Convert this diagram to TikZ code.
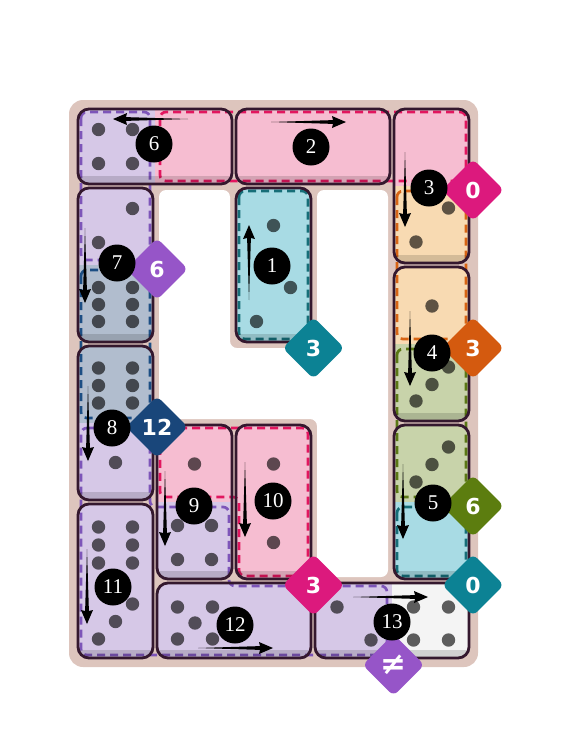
\documentclass[tikz,border=0pt]{standalone}
\usepackage{fontspec}
\newfontfamily\nfont{Liberation Serif}
\newfontfamily\dfont{DejaVu Sans}
\usetikzlibrary{shapes.geometric}
\definecolor{board}{RGB}{221,197,189}
\definecolor{pkF}{RGB}{246,189,209}
\definecolor{pkD}{RGB}{226,22,95}
\definecolor{pkL}{RGB}{220,25,125}
\definecolor{puF}{RGB}{214,200,231}
\definecolor{puD}{RGB}{125,85,185}
\definecolor{puL}{RGB}{150,85,200}
\definecolor{tlF}{RGB}{168,219,228}
\definecolor{tlD}{RGB}{22,110,120}
\definecolor{tlL}{RGB}{12,130,148}
\definecolor{slF}{RGB}{177,189,206}
\definecolor{slD}{RGB}{28,78,132}
\definecolor{slL}{RGB}{25,70,122}
\definecolor{orF}{RGB}{248,218,178}
\definecolor{orD}{RGB}{215,100,20}
\definecolor{orL}{RGB}{212,90,15}
\definecolor{grF}{RGB}{200,211,170}
\definecolor{grD}{RGB}{90,120,20}
\definecolor{grL}{RGB}{92,125,15}
\definecolor{whF}{RGB}{244,244,244}
\definecolor{domE}{RGB}{52,24,46}
% domino fills: x1 y1 x2 y2 colourA colourB
\newcommand\domH[6]{\begin{scope}\clip[rounded corners=11pt] (#1,#2) rectangle (#3,#4);
 \fill[#5] (#1,#2) rectangle ({(#1+#3)/2},#4);
 \fill[#6] ({(#1+#3)/2},#2) rectangle (#3,#4);\end{scope}}
\newcommand\domV[6]{\begin{scope}\clip[rounded corners=11pt] (#1,#2) rectangle (#3,#4);
 \fill[#5] (#1,#2) rectangle (#3,{(#2+#4)/2});
 \fill[#6] (#1,{(#2+#4)/2}) rectangle (#3,#4);\end{scope}}
\newcommand\domEdge[4]{\begin{scope}\clip[rounded corners=11pt] (#1,#2) rectangle (#3,#4);
 \fill[black,opacity=.14] (#1,{#4-8}) rectangle (#3,#4);\end{scope}
 \draw[domE,line width=2.8pt,rounded corners=11pt] (#1,#2) rectangle (#3,#4);}
\newcommand\pp[2]{\fill[black,opacity=.62] (#1,#2) circle (6.7pt);}
\begin{document}
\begin{tikzpicture}[x=1pt,y=-1pt,
  reg/.style={dash pattern=on 8pt off 5pt,line width=2.7pt,rounded corners=6pt},
  numc/.style={circle,fill=black,minimum size=37pt,inner sep=0pt,text=white,font=\nfont\fontsize{21}{21}\selectfont},
  diam/.style={diamond,minimum width=62pt,minimum height=62pt,inner sep=0pt,rounded corners=6pt,text=white,font=\dfont\bfseries\fontsize{22}{22}\selectfont},
  tarr/.pic={\fill[black] (0,0) -- (62,-1.9) -- (61,-6) -- (75,0) -- (61,6) -- (62,1.9) -- cycle;}]
\useasboundingbox (0,0) rectangle (561,756);
% board
\fill[board,rounded corners=14pt] (69,100) rectangle (478,667);
\fill[white,rounded corners=7pt] (159,190) -- (230,190) -- (230,348) -- (317,348) -- (317,190)
  -- (388,190) -- (388,577) -- (317,577) -- (317,419) -- (159,419) -- cycle;
% domino faces (region colours)
\domV{236}{188}{311}{342}{tlF}{tlF}
\domH{236}{109}{390}{184}{pkF}{pkF}
\domV{394}{109}{469}{263}{pkF}{orF}
\domV{394}{267}{469}{421}{orF}{grF}
\domV{394}{425}{469}{579}{grF}{tlF}
\domH{78}{109}{232}{184}{puF}{pkF}
\domV{78}{188}{153}{342}{puF}{slF}
\domV{78}{346}{153}{500}{slF}{puF}
\domV{157}{425}{232}{579}{pkF}{puF}
\domV{236}{425}{311}{579}{pkF}{pkF}
\domV{78}{504}{153}{658}{puF}{puF}
\domH{157}{583}{311}{658}{puF}{puF}
\domH{315}{583}{469}{658}{puF}{whF}
% region outlines
\draw[reg,puD] (81,112) rectangle (150,260);
\draw[reg,slD] (81,270) rectangle (150,418);
\draw[reg,puD] (81,428) -- (150,428) -- (150,507) -- (229,507) -- (229,586) -- (387,586) -- (387,655) -- (81,655) -- cycle;
\draw[reg,pkD] (160,112) rectangle (466,181);
\draw[reg,pkD] (160,428) -- (308,428) -- (308,576) -- (239,576) -- (239,497) -- (160,497) -- cycle;
\draw[reg,tlD] (239,191) rectangle (308,339);
\draw[reg,orD] (397,191) rectangle (466,339);
\draw[reg,grD] (397,349) rectangle (466,497);
\draw[reg,tlD] (397,507) rectangle (466,576);
% domino edges
\domEdge{236}{188}{311}{342}
\domEdge{236}{109}{390}{184}
\domEdge{394}{109}{469}{263}
\domEdge{394}{267}{469}{421}
\domEdge{394}{425}{469}{579}
\domEdge{78}{109}{232}{184}
\domEdge{78}{188}{153}{342}
\domEdge{78}{346}{153}{500}
\domEdge{157}{425}{232}{579}
\domEdge{236}{425}{311}{579}
\domEdge{78}{504}{153}{658}
\domEdge{157}{583}{311}{658}
\domEdge{315}{583}{469}{658}
% pips
\pp{98.5}{129.5}\pp{132.5}{129.5}\pp{98.5}{163.5}\pp{132.5}{163.5}
\pp{132.5}{208.5}\pp{98.5}{242.5}
\pp{98.5}{287.5}\pp{132.5}{287.5}\pp{98.5}{304.5}\pp{132.5}{304.5}\pp{98.5}{321.5}\pp{132.5}{321.5}
\pp{98.5}{368}\pp{132.5}{368}\pp{98.5}{385.5}\pp{132.5}{385.5}\pp{98.5}{403}\pp{132.5}{403}
\pp{115.5}{462.5}
\pp{98.5}{527}\pp{132.5}{527}\pp{98.5}{545}\pp{132.5}{545}\pp{98.5}{563}\pp{132.5}{563}
\pp{132.5}{604}\pp{115.5}{621.5}\pp{98.5}{639}
\pp{273.5}{225.5}
\pp{290.5}{287.5}\pp{256.5}{321.5}
\pp{194.5}{464}
\pp{177.5}{525.5}\pp{211.5}{525.5}\pp{177.5}{559.5}\pp{211.5}{559.5}
\pp{273.5}{464}
\pp{273.5}{542.5}
\pp{177.5}{607}\pp{212.5}{607}\pp{195}{623}\pp{177.5}{639}\pp{212.5}{639}
\pp{337}{607}\pp{371}{640}
\pp{413.5}{607}\pp{448.5}{607}\pp{413.5}{640}\pp{448.5}{640}
\pp{448.5}{208}\pp{416}{242}
\pp{432}{306}
\pp{448.5}{367}\pp{432}{384.5}\pp{416}{401}
\pp{448.5}{447}\pp{432}{464.5}\pp{416}{482}
% arrows
\coordinate (a1) at (249,300);  \pic[rotate=90] at (a1) {tarr};
\coordinate (a2) at (271,122);  \pic at (a2) {tarr};
\coordinate (a3) at (405,152);  \pic[rotate=-90] at (a3) {tarr};
\coordinate (a4) at (410,311);  \pic[rotate=-90] at (a4) {tarr};
\coordinate (a5) at (403,464);  \pic[rotate=-90] at (a5) {tarr};
\coordinate (a6) at (188,119);  \pic[rotate=180] at (a6) {tarr};
\coordinate (a7) at (85,228);   \pic[rotate=-90] at (a7) {tarr};
\coordinate (a8) at (88,386);   \pic[rotate=-90] at (a8) {tarr};
\coordinate (a9) at (165,471);  \pic[rotate=-90] at (a9) {tarr};
\coordinate (a10) at (245,462); \pic[rotate=-90] at (a10) {tarr};
\coordinate (a11) at (87,549);  \pic[rotate=-90] at (a11) {tarr};
\coordinate (a12) at (198,648); \pic at (a12) {tarr};
\coordinate (a13) at (353,597); \pic at (a13) {tarr};
% region labels
\node[diam,fill=puL] (d1) at (157,269) {6};
\node[diam,fill=pkL] (d2) at (473,190) {0};
\node[diam,fill=tlL] (d3) at (313.5,348) {3};
\node[diam,fill=slL] (d4) at (157,427) {12};
\node[diam,fill=orL] (d5) at (473,348) {3};
\node[diam,fill=grL] (d6) at (473,506) {6};
\node[diam,fill=tlL] (d7) at (473,585) {0};
\node[diam,fill=pkL] (d8) at (313.5,585) {3};
\node[diam,fill=puL,font=\dfont\bfseries\fontsize{31}{31}\selectfont] (d9) at (393.5,665) {≠};
% order numbers
\node[numc] (n1) at (272,266) {1};
\node[numc] (n2) at (311,147) {2};
\node[numc] (n3) at (429,188) {3};
\node[numc] (n4) at (432,353) {4};
\node[numc] (n5) at (433,503) {5};
\node[numc] (n6) at (154,144) {6};
\node[numc] (n7) at (117,263) {7};
\node[numc] (n8) at (112,428) {8};
\node[numc] (n9) at (194,506) {9};
\node[numc] (n10) at (273,501) {10};
\node[numc] (n11) at (113,587) {11};
\node[numc] (n12) at (235,625) {12};
\node[numc] (n13) at (392,622) {13};
\end{tikzpicture}
\end{document}
